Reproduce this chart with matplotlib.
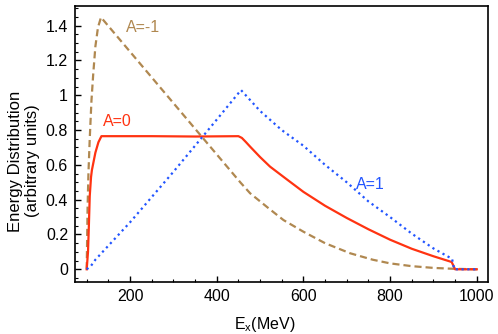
import numpy as np
import matplotlib
matplotlib.use("Agg")
import matplotlib.pyplot as plt
from matplotlib.ticker import MultipleLocator, FormatStrFormatter

plt.rcParams['font.family'] = ['Liberation Sans', 'DejaVu Sans']

# A = -1 (brown dashed)
e_m1 = [100, 102, 104, 107, 111, 115, 120, 126, 133, 455, 477, 520, 554, 600, 650, 708, 760, 800, 850, 900, 945, 1000]
y_m1 = [0.0, 0.35, 0.55, 0.75, 0.97, 1.12, 1.28, 1.39, 1.448, 0.498, 0.437, 0.35, 0.283, 0.216, 0.15, 0.092, 0.055, 0.034, 0.018, 0.008, 0.003, 0.0]

# A = 0 (red solid)
e_0 = [100, 103, 105, 107, 110, 112, 120, 127, 134, 250, 350, 450, 458, 467, 477, 500, 523, 560, 600, 650, 700, 750, 800, 850, 900, 942, 950, 1000]
y_0 = [0.0, 0.1, 0.25, 0.42, 0.53, 0.57, 0.67, 0.73, 0.765, 0.765, 0.763, 0.765, 0.755, 0.732, 0.705, 0.645, 0.59, 0.52, 0.445, 0.365, 0.295, 0.23, 0.17, 0.118, 0.075, 0.042, 0.0, 0.0]

# A = 1 (blue dotted)
e_p1 = [100, 110, 120, 200, 300, 400, 456, 500, 550, 600, 650, 700, 750, 800, 850, 900, 943, 948, 1000]
y_p1 = [0.0, 0.02, 0.055, 0.27, 0.56, 0.86, 1.03, 0.91, 0.80, 0.71, 0.60, 0.50, 0.39, 0.30, 0.205, 0.12, 0.06, 0.0, 0.0]

c_m1 = '#b08850'
c_0 = '#ff3311'
c_p1 = '#2255ff'
fs = 11.5

fig = plt.figure(figsize=(4.98, 3.34), dpi=100)
ax = fig.add_axes([0.1506, 0.1557, 0.8294, 0.8263])

ax.plot(e_m1, y_m1, color=c_m1, lw=1.6, dashes=(3.2, 1.8))
ax.plot(e_0, y_0, color=c_0, lw=1.6)
ax.plot(e_p1, y_p1, color=c_p1, lw=1.6, dashes=(1.0, 1.6))

ax.text(230, 1.387, 'A=-1', color=c_m1, fontsize=fs, ha='center', va='center')
ax.text(170, 0.852, 'A=0', color=c_0, fontsize=fs, ha='center', va='center')
ax.text(754, 0.49, 'A=1', color=c_p1, fontsize=fs, ha='center', va='center')

ax.set_xlim(73, 1026)
ax.set_ylim(-0.073, 1.513)
ax.xaxis.set_major_locator(MultipleLocator(200))
ax.xaxis.set_minor_locator(MultipleLocator(50))
ax.yaxis.set_major_locator(MultipleLocator(0.2))
ax.yaxis.set_minor_locator(MultipleLocator(0.05))
ax.yaxis.set_major_formatter(FormatStrFormatter('%g'))
ax.tick_params(which='both', direction='in', top=False, right=False, labelsize=fs)
ax.tick_params(which='major', length=4, width=1, pad=5)
ax.tick_params(which='minor', length=2.2, width=0.8)
for s in ax.spines.values():
    s.set_linewidth(1.2)

ax.set_xlabel('E$_\\mathregular{x}$(MeV)', fontsize=fs)
ax.set_ylabel('Energy Distribution\n(arbitrary units)', fontsize=12, linespacing=1.15)
ax.xaxis.set_label_coords(0.46, -0.118)
ax.yaxis.set_label_coords(-0.085, 0.438)

fig.savefig('out.png', dpi=100)
